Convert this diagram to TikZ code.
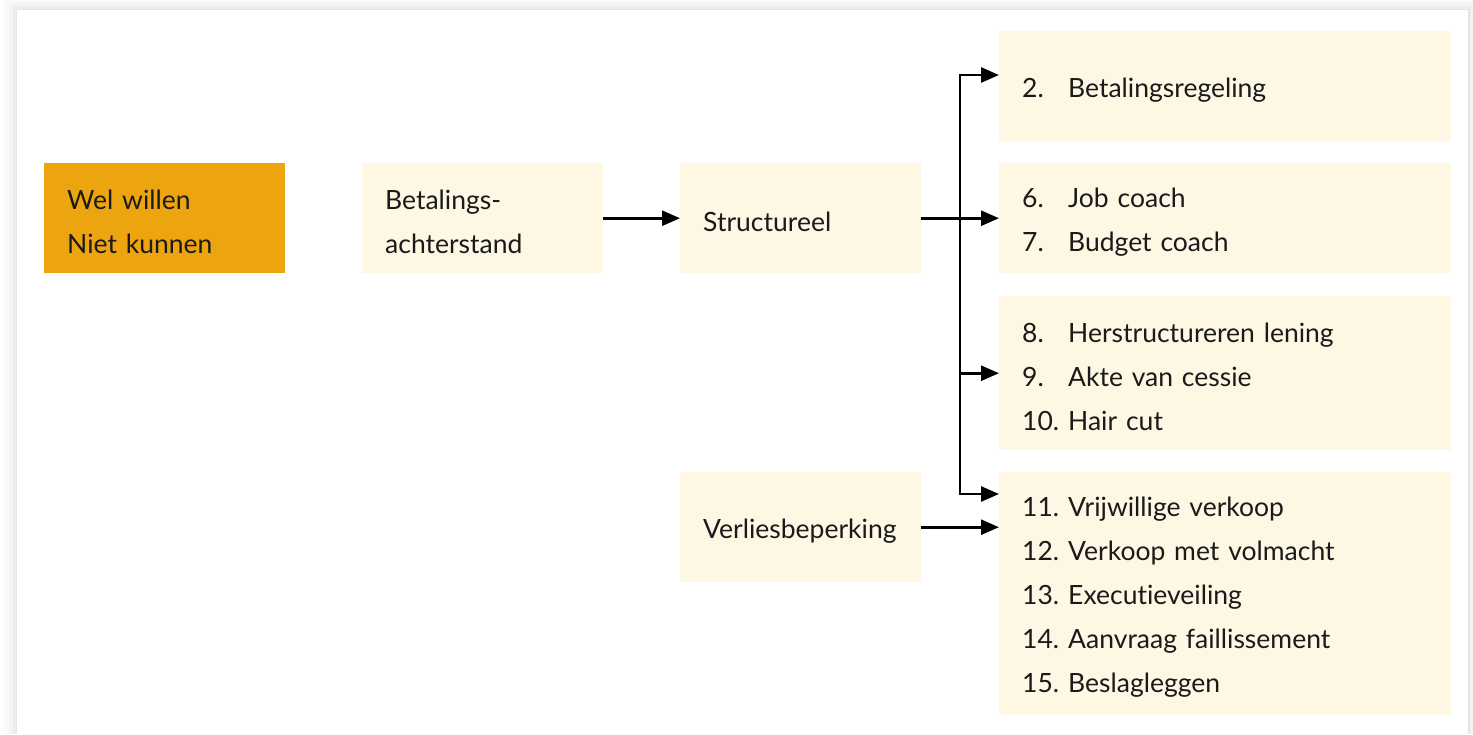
\documentclass[tikz,border=0pt]{standalone}
\usepackage{fontspec}
\setmainfont{Lato}[Ligatures={NoCommon}]
\usetikzlibrary{arrows.meta,calc}
\definecolor{cream}{HTML}{FEF7E3}
\definecolor{amber}{HTML}{EDA50F}
\definecolor{ink}{HTML}{1A1A1A}
\newcommand\itm[2]{\makebox[46pt][l]{#1}#2}
\begin{document}
\begin{tikzpicture}[x=1pt,y=-1pt,
  font=\fontsize{26.5}{44}\selectfont,
  box/.style={fill=cream, draw=none, anchor=north west, minimum width=241pt,
    minimum height=110pt, inner xsep=23pt, inner ysep=0pt, align=left,
    text width=195pt, text=ink, execute at begin node={\rule{0pt}{27pt}}},
  wide/.style={box, minimum width=452pt, text width=406pt},
  arr/.style={draw=black, line width=2.6pt,
    -{Triangle[length=18pt,width=15pt]}},
  ]
\useasboundingbox (0,0) rectangle (1473,734);
% card background with soft shadow
\fill[white] (0,0) rectangle (1473,734);
\fill[black!2] (4,0) rectangle (1473,734);
\fill[black!4] (9,2) rectangle (1473,734);
\fill[black!7] (13,6) rectangle (1471,734);
\fill[black!10] (15.5,8.5) rectangle (1469.5,734);
\fill[white] (17,10) rectangle (1468,734);

\node[box, fill=amber] (wn) at (44,163) {Wel willen\\Niet kunnen};
\node[box] (ba) at (362,163) {Betalings-\\achterstand};
\node[box] (st) at (680,163) {Structureel};
\node[box] (vb) at (680,472) {Verliesbeperking};

\node[wide] (b1) at (999,31) {\itm{2.}{Betalingsregeling}};
\node[wide] (b2) at (999,163) {\itm{6.}{Job coach}\\\itm{7.}{Budget coach}};
\node[wide, minimum height=154pt] (b3) at (999,296)
  {\itm{8.}{Herstructureren lening}\\\itm{9.}{Akte van cessie}\\\itm{10.}{Hair cut}};
\node[wide, minimum height=243pt] (b4) at (999,472)
  {\itm{11.}{Vrijwillige verkoop}\\\itm{12.}{Verkoop met volmacht}\\\itm{13.}{Executieveiling}\\\itm{14.}{Aanvraag faillissement}\\\itm{15.}{Beslagleggen}};

\coordinate (sp) at (960,218);
\coordinate (t1) at ($(b1.north west)+(0,44)$);
\coordinate (t4) at ($(b4.north west)+(0,22)$);

\draw[arr] (ba.east) -- (st.east -| st.west);
\draw[arr] (st.east) -- (b2.west |- st.east);
\draw[arr] (sp) |- (t1);
\draw[arr] (sp) |- (b3.west);
\draw[arr] (sp) |- (t4);
\draw[arr] (vb.east) -- (b4.west |- vb.east);
\end{tikzpicture}
\end{document}
